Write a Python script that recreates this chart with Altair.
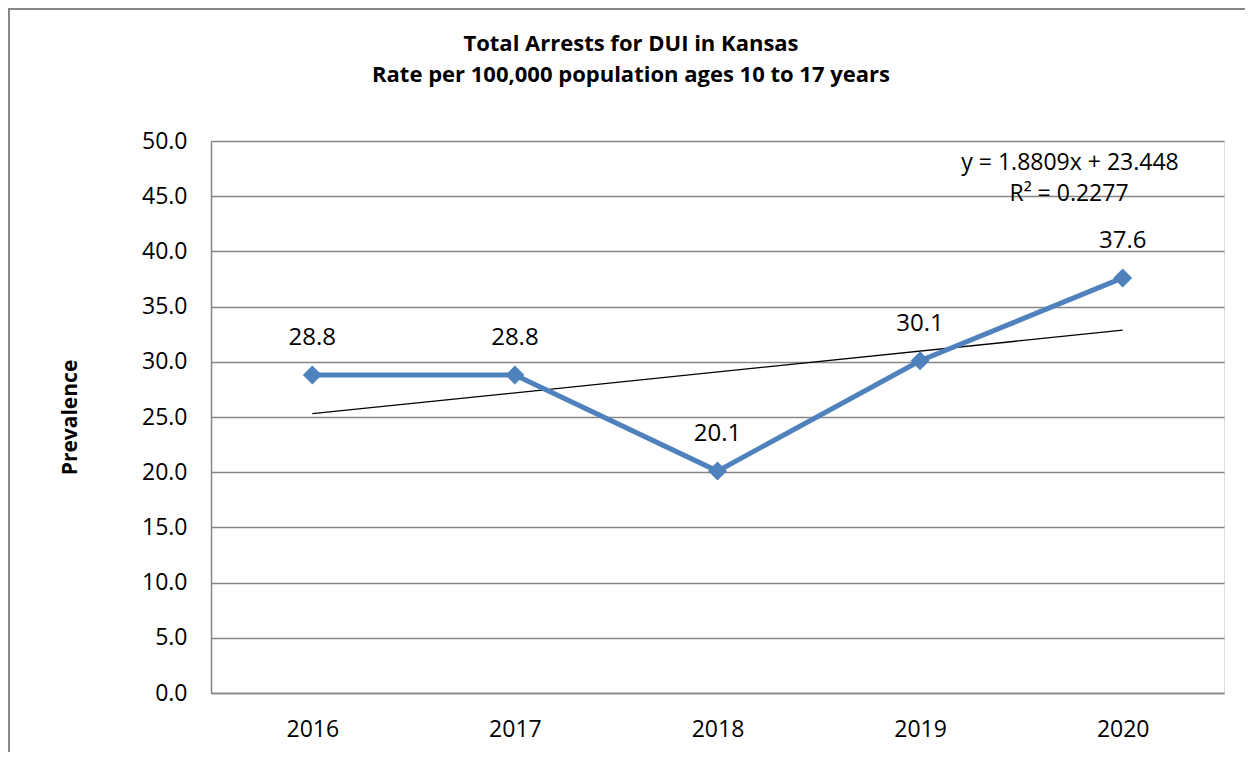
import altair as alt
import pandas as pd

years = ["2016", "2017", "2018", "2019", "2020"]
rates = [28.8, 28.8, 20.1, 30.1, 37.6]
idx = [1, 2, 3, 4, 5]
y_ticks = [0, 5, 10, 15, 20, 25, 30, 35, 40, 45, 50]
title_lines = ["Total Arrests for DUI in Kansas", "Rate per 100,000 population ages 10 to 17 years"]
eq_lines = ["y = 1.8809x + 23.448", "R\u00b2 = 0.2277"]

FONT = "Open Sans"
W, H = 1013, 552
BLUE = "#4F81BD"
GRAY = "#868686"

df = pd.DataFrame({"year": years, "rate": rates, "idx": idx})

xenc = alt.X("year:O", scale=alt.Scale(domain=years, paddingInner=0, paddingOuter=0),
             axis=alt.Axis(title=None, labelAngle=0, labelAlign="center", labelBaseline="top",
                           ticks=False, tickSize=0, grid=False,
                           domainColor=GRAY, domainWidth=1.5, labelFontSize=23, labelFont=FONT,
                           labelColor="black", labelPadding=25))
yenc = alt.Y("rate:Q", scale=alt.Scale(domain=[0, 50], nice=False),
             axis=alt.Axis(values=y_ticks, format=".1f", ticks=False, tickSize=0, grid=True,
                           gridColor=GRAY, gridWidth=1.5, domainColor=GRAY, domainWidth=1.5,
                           labelAlign="right", labelBaseline="middle",
                           labelFontSize=23, labelFont=FONT, labelColor="black", labelPadding=24,
                           title="Prevalence", titleFont=FONT, titleFontSize=21, titleFontWeight="bold",
                           titleColor="black", titleAngle=-90, titleX=-141, titleY=H / 2,
                           titleAlign="center", titleBaseline="middle"))

base = alt.Chart(df)

line = base.mark_line(color=BLUE, strokeWidth=5).encode(x=xenc, y=yenc)
pts = base.mark_point(shape="diamond", filled=True, color=BLUE, size=360, opacity=1).encode(
    x="year:O", y="rate:Q")
labels = base.mark_text(dy=-37, fontSize=24, font=FONT, color="black").encode(
    x="year:O", y="rate:Q", text=alt.Text("rate:Q", format=".1f"))

trend = base.transform_regression("idx", "rate", method="linear").transform_calculate(
    year="'' + (2015 + datum.idx)").mark_line(color="black", strokeWidth=1.3).encode(
    x="year:O", y="rate:Q")

eq1 = alt.Chart(pd.DataFrame({"t": [eq_lines[0]]})).mark_text(
    fontSize=23, font=FONT, color="black", align="center", baseline="middle").encode(
    text="t:N", x=alt.value(859), y=alt.value(22))
eq2 = alt.Chart(pd.DataFrame({"t": [eq_lines[1]]})).mark_text(
    fontSize=23, font=FONT, color="black", align="center", baseline="middle").encode(
    text="t:N", x=alt.value(858), y=alt.value(53))

t1 = alt.Chart(pd.DataFrame({"t": [title_lines[0]]})).mark_text(
    fontSize=22, font=FONT, fontWeight="bold", color="black", align="center", baseline="middle").encode(
    text="t:N", x=alt.value(420), y=alt.value(-97))
t2 = alt.Chart(pd.DataFrame({"t": [title_lines[1]]})).mark_text(
    fontSize=22, font=FONT, fontWeight="bold", color="black", align="center", baseline="middle").encode(
    text="t:N", x=alt.value(420), y=alt.value(-66))

border = alt.Chart(pd.DataFrame({"a": [0]})).mark_rect(
    fill=None, stroke=GRAY, strokeWidth=2, fillOpacity=0).encode(
    x=alt.value(-202), x2=alt.value(W + 60), y=alt.value(-132), y2=alt.value(H + 100))

chart = alt.layer(border, trend, line, pts, labels, eq1, eq2, t1, t2).properties(
    width=W, height=H,
    autosize=alt.AutoSizeParams(type="none"),
    padding={"left": 203, "top": 133, "right": 21, "bottom": 59},
).configure_view(stroke=None).configure(background="white")

chart.save("out.html", embed_options={"renderer": "svg", "actions": False})
